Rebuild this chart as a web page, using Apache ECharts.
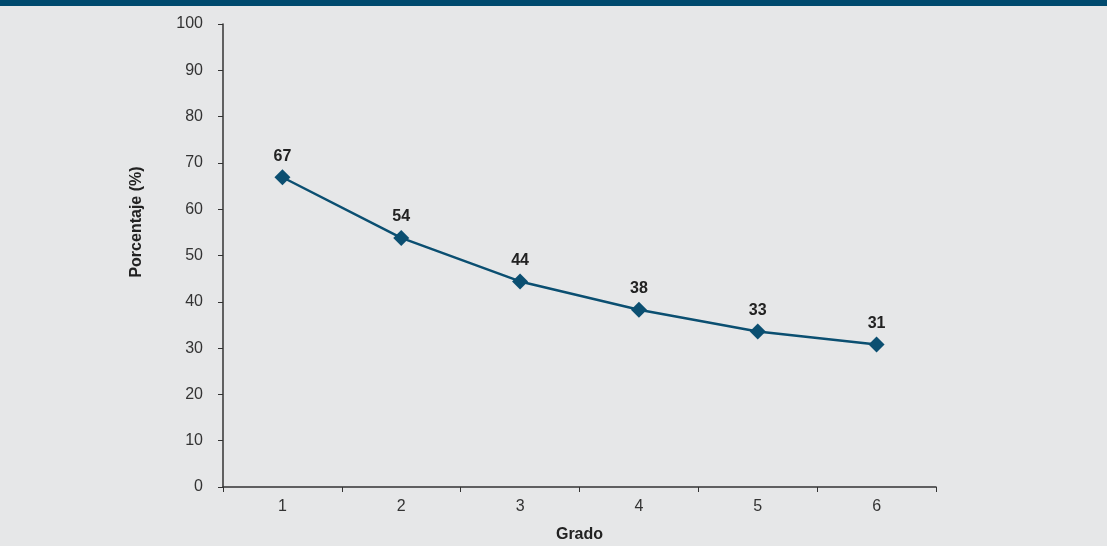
<!DOCTYPE html>
<html><head><meta charset="utf-8">
<script src="https://cdn.jsdelivr.net/npm/echarts@6/dist/echarts.min.js"></script>
<style>html,body{margin:0;padding:0;background:#e6e7e8;}#c{width:1107px;height:546px;}</style>
</head><body><div id="c"></div>
<script>
const categories = ['1','2','3','4','5','6'];
const values = [66.9, 53.8, 44.4, 38.3, 33.6, 30.8];
const labels = ['67','54','44','38','33','31'];
const yTicks = [0,10,20,30,40,50,60,70,80,90,100];
const xTitle = 'Grado';
const yTitle = 'Porcentaje (%)';

const chart = echarts.init(document.getElementById('c'));
const font = 'Liberation Sans, Arial, sans-serif';
chart.setOption({
  backgroundColor: '#e6e7e8',
  animation: false,
  graphic: [
    {type:'rect', left:0, top:0, shape:{width:1107, height:6}, style:{fill:'#004a6e'}},
    {type:'text', x:137, y:222, rotation:Math.PI/2,
     style:{text:yTitle, font:'bold 16px ' + font, fill:'#222', align:'center', verticalAlign:'middle'}}
  ],
  grid: {left:223, right:171, top:24, bottom:59, containLabel:false, outerBoundsMode:'none'},
  xAxis: {
    type:'category', data: categories, boundaryGap:true,
    name:xTitle, nameLocation:'middle', nameGap:40,
    nameTextStyle:{fontFamily:font, fontWeight:'bold', fontSize:16, color:'#222'},
    axisLine:{lineStyle:{color:'#333', width:1.5}},
    axisTick:{show:true, inside:false, length:5, lineStyle:{color:'#333'}},
    axisLabel:{fontFamily:font, fontSize:16, color:'#333', margin:12},
    splitLine:{show:false}
  },
  yAxis: {
    type:'value', min:yTicks[0], max:yTicks[yTicks.length-1], interval:10,
    axisLine:{show:true, lineStyle:{color:'#333', width:1.5}},
    axisTick:{show:true, inside:false, length:5, lineStyle:{color:'#333'}},
    axisLabel:{fontFamily:font, fontSize:16, color:'#333', margin:20},
    splitLine:{show:false}
  },
  series: [{
    type:'line', data: values,
    lineStyle:{color:'#0b4f71', width:2.5},
    itemStyle:{color:'#0b4f71'},
    symbol:'diamond', symbolSize:16,
    label:{show:true, position:'top', distance:5, fontFamily:font, fontWeight:'bold', fontSize:16, color:'#222',
      formatter: p => labels[p.dataIndex]}
  }]
});
</script></body></html>
